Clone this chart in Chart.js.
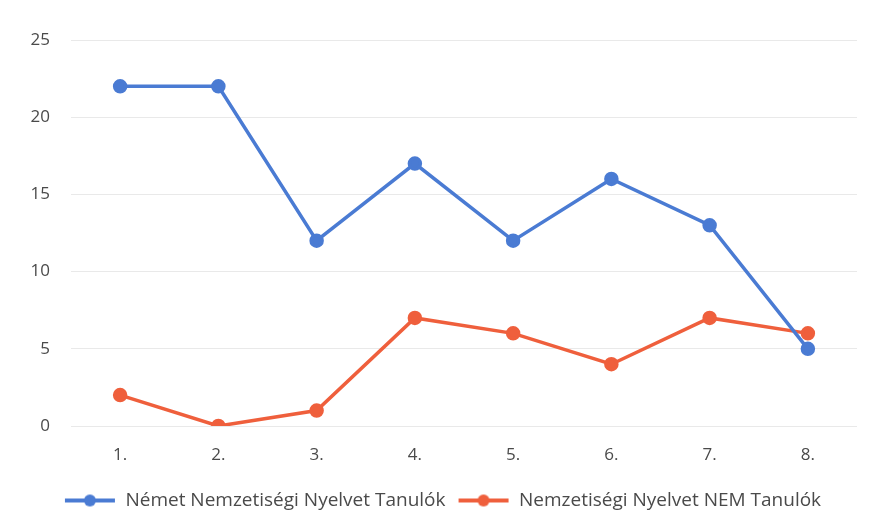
<!DOCTYPE html>
<html><head><meta charset="utf-8">
<script src="https://cdn.jsdelivr.net/npm/chart.js@4"></script>
<style>html,body{margin:0;padding:0;background:#fff}#wrap{width:870px;height:531px}</style>
</head><body><div id="wrap"><canvas id="c" width="870" height="531"></canvas></div>
<script>
const categories = ['1.', '2.', '3.', '4.', '5.', '6.', '7.', '8.'];
const nemetValues = [22, 22, 12, 17, 12, 16, 13, 5];
const nemValues = [2, 0, 1, 7, 6, 4, 7, 6];
const seriesNames = ['Német Nemzetiségi Nyelvet Tanulók', 'Nemzetiségi Nyelvet NEM Tanulók'];
const yTicks = [0, 5, 10, 15, 20, 25];
const blue = '#4a7bd3';
const orange = '#ef5f3c';

function marker(color) {
  const cv = document.createElement('canvas');
  cv.width = 52; cv.height = 14;
  const g = cv.getContext('2d');
  g.strokeStyle = color; g.lineWidth = 4;
  g.beginPath(); g.moveTo(1, 7); g.lineTo(51, 7); g.stroke();
  g.fillStyle = color; g.beginPath(); g.arc(26, 7, 6, 0, Math.PI * 2); g.fill();
  return cv;
}
const markers = [marker(blue), marker(orange)];

new Chart(document.getElementById('c'), {
  type: 'line',
  data: {
    labels: categories,
    datasets: [
      { label: seriesNames[0], data: nemetValues, borderColor: blue, backgroundColor: blue, borderWidth: 3.5, pointRadius: 5.5, pointHoverRadius: 5.5, tension: 0 },
      { label: seriesNames[1], data: nemValues, borderColor: orange, backgroundColor: orange, borderWidth: 3.5, pointRadius: 5.5, pointHoverRadius: 5.5, tension: 0 }
    ]
  },
  options: {
    responsive: false,
    animation: false,
    layout: { padding: { left: 28, right: 13, top: 40, bottom: 11 } },
    scales: {
      x: {
        offset: true,
        grid: { display: false, drawTicks: false },
        border: { display: false },
        ticks: { color: '#4a4a4a', font: { family: 'Open Sans', size: 17 }, padding: 19 },
        afterFit: s => { s.height = 53; }
      },
      y: {
        min: 0, max: 25,
        afterBuildTicks: s => { s.ticks = yTicks.map(v => ({ value: v })); },
        grid: { color: '#e9e9e9', drawTicks: false, lineWidth: 1 },
        border: { display: false },
        ticks: { color: '#4a4a4a', font: { family: 'Open Sans', size: 17 }, padding: 21 },
        afterFit: s => { s.width = 43; }
      }
    },
    plugins: {
      legend: {
        position: 'bottom',
        labels: {
          usePointStyle: true,
          pointStyleWidth: 52,
          color: '#4a4a4a',
          font: { family: 'Open Sans', size: 19 },
          boxHeight: 14,
          padding: 12,
          generateLabels: chart => chart.data.datasets.map((d, i) => ({
            text: d.label, pointStyle: markers[i], fillStyle: d.borderColor, strokeStyle: d.borderColor,
            lineWidth: 0, datasetIndex: i, hidden: false, fontColor: '#4a4a4a'
          }))
        }
      },
      tooltip: { enabled: false }
    }
  }
});
</script></body></html>
